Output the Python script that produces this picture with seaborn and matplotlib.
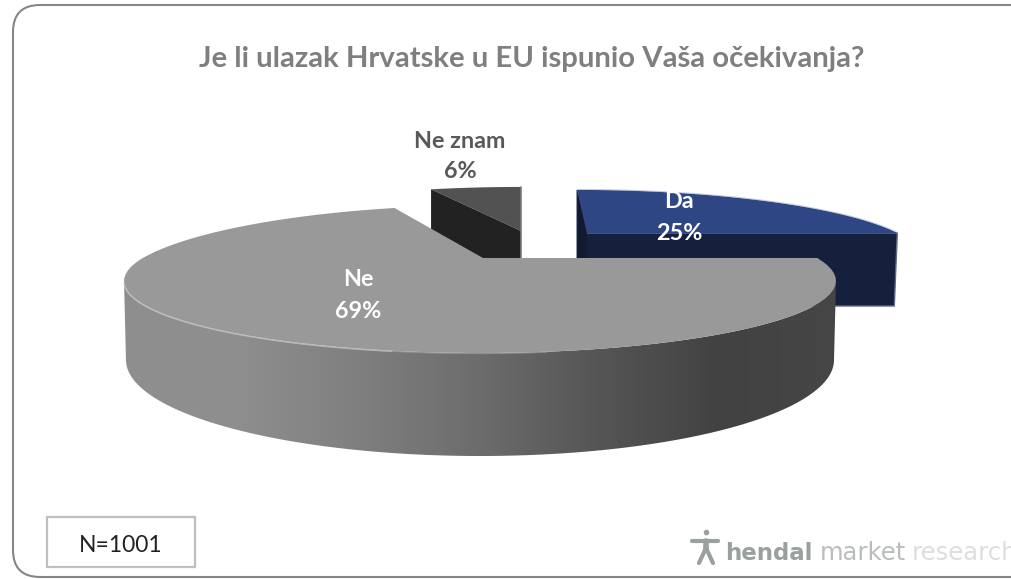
"""3D style pie: Je li ulazak Hrvatske u EU ispunio Vasa ocekivanja?"""

import numpy as np
import matplotlib
matplotlib.use("Agg")
import matplotlib.pyplot as plt
from matplotlib.colors import LinearSegmentedColormap
from matplotlib.patches import FancyBboxPatch, Polygon, Rectangle
import seaborn as sns

sns.set_style("white")
plt.rcParams["font.family"] = ["Lato", "DejaVu Sans"]

labels = ["Da", "Ne znam", "Ne"]
values = [25, 6, 69]
title = "Je li ulazak Hrvatske u EU ispunio Vaša očekivanja?"
sample_note = "N=1001"

top_colors = ["#2e4784", "#525252", "#999999"]
wall_colors = ["#14203c", "#222222", "#777777"]

W, H = 1012, 579

# top face ellipse of the big slice, in pixels
CX, CY, RX, RY = 480, 281, 356, 72
TILT = 0.32
# lower rim of the big slice
LOW_CY, LOW_RX, LOW_RY = 360, 354, 96


def tilt_xy(x, y):
    """Unit disc to pixels, the disc centre sits behind the ellipse centre."""
    d = 1 + TILT * y
    u = x * np.sqrt(1 - TILT ** 2) / d
    v = (y + TILT) / d
    return CX + RX * u, CY - RY * v


def slice_outline(wedge, origin, sx=1.0, sy=1.0, skew=0.0):
    """Outline of a pie wedge on the tilted disc, moved to its exploded origin."""
    t = np.radians(np.linspace(wedge.theta1, wedge.theta2, 80))
    ax_, ay_ = tilt_xy(np.cos(t), np.sin(t))
    cx0, cy0 = tilt_xy(0.0, 0.0)
    dx, dy = ax_ - cx0, ay_ - cy0
    px = origin[0] + sx * dx + skew * dy
    py = origin[1] + sy * dy
    return np.column_stack([px, py])


fig = plt.figure(figsize=(W / 100, H / 100), dpi=100)
ax = fig.add_axes([0, 0, 1, 1])

# pie gives the angles, the tilted faces are built from its wedges
wedges, _ = ax.pie(values, startangle=0, counterclock=True)
for w in wedges:
    w.set_visible(False)

ax.set_aspect("auto")
ax.set_xlim(0, W)
ax.set_ylim(H, 0)
ax.axis("off")

# frame, runs off the right edge
ax.add_patch(FancyBboxPatch((13, 5), 1040, 572, boxstyle="round,pad=0,rounding_size=27",
                            fc="white", ec="#868686", lw=1.5, zorder=0))

ax.text(532, 59, title, ha="center", va="center", fontsize=21.1, fontweight="bold",
        color="#7f7f7f", zorder=8)

# Da
da = slice_outline(wedges[0], (587, 233), sx=0.92, sy=0.88, skew=0.2)
da_tip, da_start, da_end = (587, 233), da[0], da[-1]
ax.add_patch(Polygon([da_tip, da_start, da_start + [-3, 73], (577, 306), (577, 190)],
                     fc=wall_colors[0], ec="#5f6a86", lw=1, zorder=2))
ax.add_patch(Polygon(np.vstack([[da_tip], da]), fc=top_colors[0], ec="none", zorder=3))
ax.plot(da[:, 0], da[:, 1] - 0.5, color="#8b98b8", lw=0.7, alpha=0.5, zorder=3)
ax.add_patch(Polygon([da_tip, da_end, (577, 306), (587, 306)], fc="#111a30", ec="none", zorder=3))

# Ne znam
nz = slice_outline(wedges[1], (521, 231), sx=0.94, sy=0.9)
nz_end = nz[-1]
ax.add_patch(Polygon(np.vstack([[(521, 231)], nz]), fc=top_colors[1], ec="none", zorder=2))
ax.add_patch(Polygon([nz_end, (521, 231), (521, 311), nz_end + [0, 80]],
                     fc=wall_colors[1], ec="none", zorder=2))
ax.plot([521, 521], [187, 258], color="#7a7a7a", lw=1.2, zorder=3)

# Ne, side wall first, then the top face
t_low = np.linspace(np.pi, 2 * np.pi, 200)
wall_top = np.column_stack([CX + RX * np.cos(t_low), CY - RY * np.sin(t_low)])
wall_low = np.column_stack([CX + LOW_RX * np.cos(t_low), LOW_CY - LOW_RY * np.sin(t_low)])
wall_poly = Polygon(np.vstack([wall_top, wall_low[::-1]]), fc="none", ec="none", zorder=4)
ax.add_patch(wall_poly)
wall_cmap = LinearSegmentedColormap.from_list(
    "wall", ["#8f8f8f", "#8e8e8e", "#7f7f7f", "#6c6c6c", "#555555", "#424242", "#464646"])
grad = ax.imshow(np.linspace(0, 1, 256).reshape(1, -1), extent=(120, 840, 460, 270),
                 cmap=wall_cmap, aspect="auto", zorder=4)
grad.set_clip_path(wall_poly)
ax.set_xlim(0, W)
ax.set_ylim(H, 0)

ne_tip = (483, 258)
ne = slice_outline(wedges[2], (CX, 258))
# the far side leans right and up a little in the reference
back = ne[:, 1] < ne_tip[1]
ne[back, 0] += -0.22 * (ne[back, 1] - ne_tip[1])
ne[back, 1] += 0.08 * (ne[back, 1] - ne_tip[1])
ax.add_patch(Polygon(np.vstack([[ne_tip], ne]), fc=top_colors[2], ec="none", zorder=5))

# light rim on the front left, fading out towards the middle
t_rim = np.linspace(np.pi * 1.01, np.pi * 1.42, 100)
ax.plot(CX + RX * np.cos(t_rim), CY - RY * np.sin(t_rim) + 0.5, color="#c4c4c4", lw=1.1,
        alpha=0.8, zorder=6)
t_fade = np.linspace(np.pi * 1.42, np.pi * 1.56, 40)
ax.plot(CX + RX * np.cos(t_fade), CY - RY * np.sin(t_fade) + 0.5, color="#b0b0b0", lw=0.9,
        alpha=0.5, zorder=6)

# slice labels
label_style = dict(ha="center", va="center", fontsize=16.8, fontweight="bold", zorder=9)
ax.text(460, 141, labels[1], color="#595959", **label_style)
ax.text(460, 172, f"{values[1]}%", color="#595959", **label_style)
ax.text(679, 201, labels[0], color="white", **label_style)
ax.text(679, 233, f"{values[0]}%", color="white", **label_style)
ax.text(358, 280, labels[2], color="white", **label_style)
ax.text(358, 311, f"{values[2]}%", color="white", **label_style)

# sample size box
ax.add_patch(Rectangle((47, 517), 148, 50, fc="white", ec="#bfbfbf", lw=1.6, zorder=7))
ax.text(121, 545, sample_note, ha="center", va="center", fontsize=16.5, color="#222222", zorder=8)

# logo
logo_style = dict(ha="left", va="center", family="DejaVu Sans", zorder=8)
ax.text(725, 553, "hendal", fontsize=16.5, fontweight="bold", color="#98a19e", **logo_style)
ax.text(820, 553, "market", fontsize=17.5, color="#b9bdbb", **logo_style)
ax.text(912, 553, "research", fontsize=17.5, color="#dcdfde", clip_on=True, **logo_style)
ax.plot([692, 718], [541, 541], color="#98a19e", lw=3, zorder=8)
ax.plot([706, 706], [541, 550], color="#98a19e", lw=4, zorder=8)
ax.plot([706, 699], [548, 563], color="#98a19e", lw=3, zorder=8)
ax.plot([706, 713], [548, 563], color="#98a19e", lw=3, zorder=8)
ax.plot([706], [532], "o", color="#98a19e", ms=3, zorder=8)

fig.savefig("out.png", dpi=100)
plt.close(fig)
